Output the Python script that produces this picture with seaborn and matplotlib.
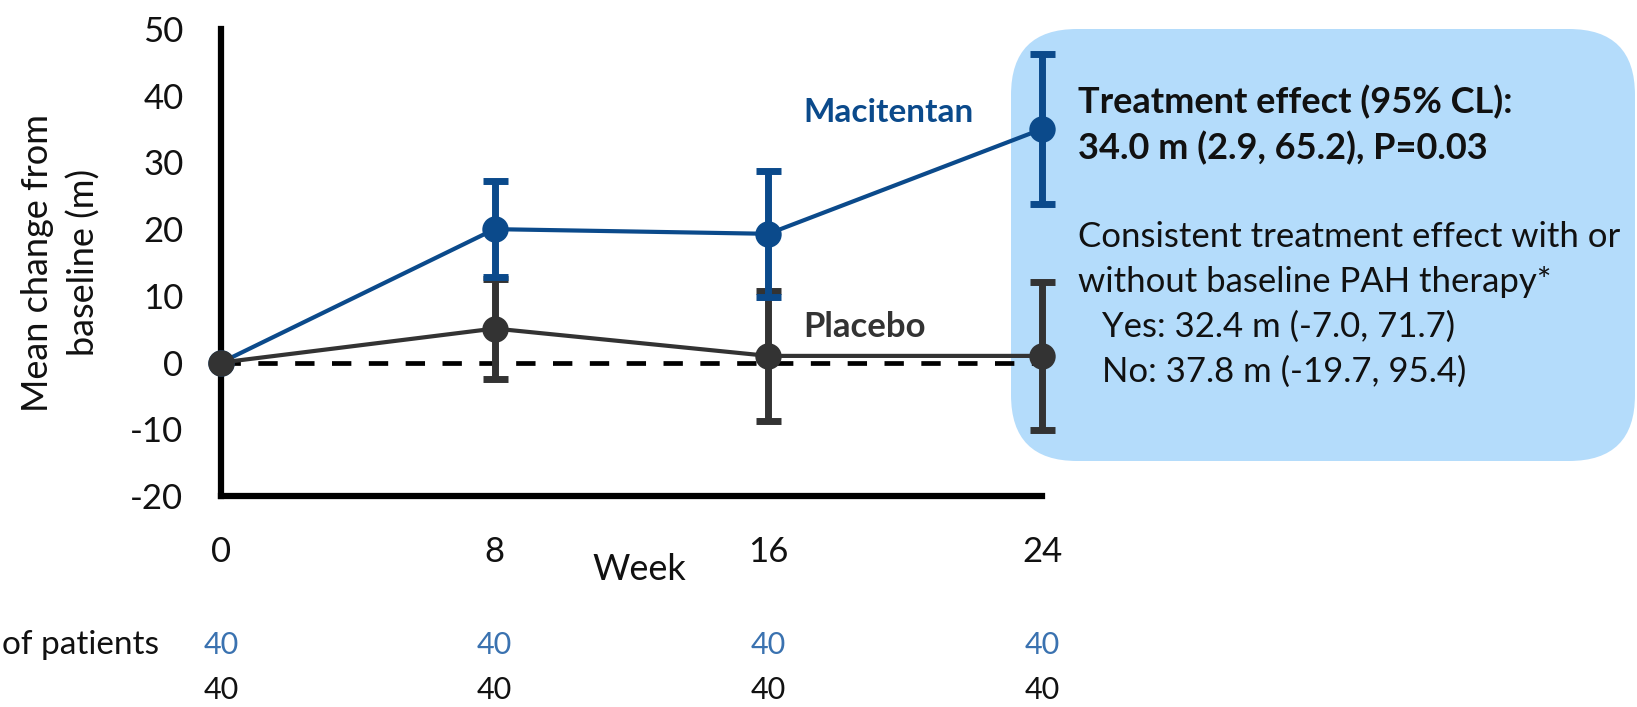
import matplotlib
matplotlib.use("Agg")
import matplotlib.pyplot as plt
import matplotlib.transforms as mtransforms
from matplotlib.patches import FancyBboxPatch
import seaborn as sns

# Study visits and summary statistics (mean change in 6MWD, half-width of 95% CI)
weeks = [0, 8, 16, 24]
mac_mean = [0.0, 20.0, 19.3, 35.0]
mac_err = [0.0, 7.2, 9.4, 11.3]
pla_mean = [0.0, 5.1, 1.0, 1.0]
pla_err = [0.0, 7.5, 9.8, 11.1]
n_mac = [40, 40, 40, 40]
n_pla = [40, 40, 40, 40]
yticks = [-20, -10, 0, 10, 20, 30, 40, 50]

box_lines_bold = ["Treatment effect (95% CL):", "34.0 m (2.9, 65.2), P=0.03"]
box_lines = ["Consistent treatment effect with or", "without baseline PAH therapy*"]
box_sub = ["Yes: 32.4 m (-7.0, 71.7)", "No: 37.8 m (-19.7, 95.4)"]

BLUE = "#0b4a8b"
GREY = "#333333"
NBLUE = "#3a72b0"
BOXC = "#b4dcfb"
INK = "#111111"

sns.set_theme(style="white")
plt.rcParams["font.family"] = ["Lato", "DejaVu Sans"]

W, H = 1637, 707
fig = plt.figure(figsize=(W / 100, H / 100), dpi=100)
ax = fig.add_axes([221 / W, 1 - 496 / H, (1042 - 221) / W, (496 - 29) / H])
ax.set_facecolor("none")

# rounded highlight panel behind the week-24 results
panel = FancyBboxPatch((1011 / 100, (H - 461) / 100), 6.24, (461 - 29) / 100,
                       boxstyle="round,pad=0,rounding_size=0.66",
                       transform=fig.dpi_scale_trans, facecolor=BOXC,
                       edgecolor="none", zorder=-1)
fig.add_artist(panel)

ax.axhline(0, color="black", lw=3.4, ls=(0, (4.1, 3.7)), zorder=1)

ax.errorbar(weeks[1:], pla_mean[1:], yerr=pla_err[1:], fmt="none", ecolor=GREY,
            elinewidth=5, capsize=9, capthick=5, zorder=2, clip_on=False)
ax.errorbar(weeks[1:], mac_mean[1:], yerr=mac_err[1:], fmt="none", ecolor=BLUE,
            elinewidth=5, capsize=9, capthick=5, zorder=3, clip_on=False)

sns.lineplot(x=weeks, y=mac_mean, ax=ax, color=BLUE, lw=3, marker="o",
             markersize=19, markeredgewidth=0, zorder=4, clip_on=False)
sns.lineplot(x=weeks, y=pla_mean, ax=ax, color=GREY, lw=3, marker="o",
             markersize=19, markeredgewidth=0, zorder=5, clip_on=False)

ax.set_xlim(0, 24)
ax.set_ylim(-20, 50)
ax.set_xticks(weeks)
ax.set_xticklabels([str(w) for w in weeks])
ax.set_yticks(yticks)
ax.set_yticklabels([str(v) for v in yticks])

for side in ("top", "right"):
    ax.spines[side].set_visible(False)
for side in ("left", "bottom"):
    ax.spines[side].set_linewidth(4.5)
    ax.spines[side].set_color("black")
ax.tick_params(axis="both", direction="out", length=9, width=2.5, color="black",
               labelsize=25, labelcolor=INK)
ax.tick_params(axis="y", pad=18)
ax.tick_params(axis="x", pad=20)

ax.set_ylabel("Mean change from\nbaseline (m)", fontsize=26, color=INK,
              linespacing=1.45)
ax.yaxis.set_label_coords(-0.147, 0.5)
ax.set_xlabel("Week", fontsize=26, color=INK)
ax.xaxis.set_label_coords(0.509, -0.122)

# series names
ax.text(803 / W, 1 - 112 / H, "Macitentan", transform=fig.transFigure,
        fontsize=24, fontweight="bold", color=BLUE, va="center", ha="left")
ax.text(803 / W, 1 - 327 / H, "Placebo", transform=fig.transFigure,
        fontsize=25, fontweight="bold", color=GREY, va="center", ha="left")

# panel text
tx = 1078 / W
for txt, y in zip(box_lines_bold, [102, 148]):
    fig.text(tx, 1 - y / H, txt, fontsize=26, fontweight="bold", color=INK,
             va="center", ha="left")
for txt, y in zip(box_lines, [237, 282]):
    fig.text(tx, 1 - y / H, txt, fontsize=25, color=INK, va="center", ha="left")
for txt, y in zip(box_sub, [327, 372]):
    fig.text(1102 / W, 1 - y / H, txt, fontsize=25, color=INK,
             va="center", ha="left")

# numbers at risk below the axis
bt = mtransforms.blended_transform_factory(ax.transData, fig.transFigure)
fig.text(2 / W, 1 - 645 / H, "of patients", fontsize=24, color=INK,
         va="center", ha="left")
for w, n in zip(weeks, n_mac):
    ax.text(w, 1 - 645 / H, str(n), transform=bt, fontsize=22, color=NBLUE,
            va="center", ha="center", clip_on=False)
for w, n in zip(weeks, n_pla):
    ax.text(w, 1 - 690 / H, str(n), transform=bt, fontsize=22, color=INK,
            va="center", ha="center", clip_on=False)

fig.savefig("out.png", dpi=100, facecolor="white")
